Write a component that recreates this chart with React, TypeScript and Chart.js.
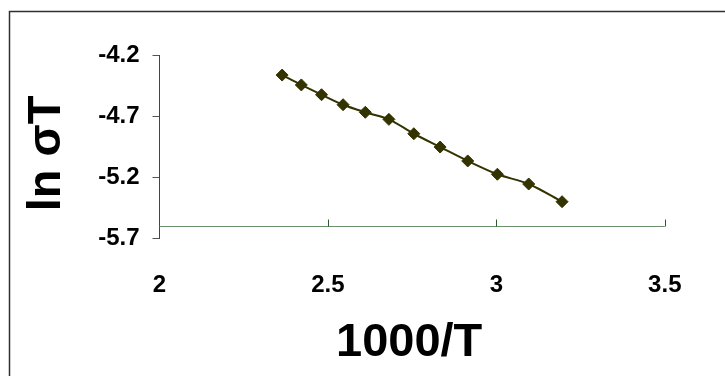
import React, { useEffect, useRef } from 'react';
import { Chart, registerables } from 'chart.js';

Chart.register(...registerables);

// Data
const xValues = [2.364, 2.421, 2.481, 2.545, 2.611, 2.681, 2.755, 2.833, 2.915, 3.003, 3.096, 3.195];
const yValues = [-4.362, -4.443, -4.523, -4.605, -4.667, -4.725, -4.843, -4.952, -5.066, -5.175, -5.255, -5.4];
const xTicks = [2, 2.5, 3, 3.5];
const xTickLabels = ['2', '2.5', '3', '3.5'];
const yTicks = [-5.7, -5.2, -4.7, -4.2];
const yTickLabels = ['-5.7', '-5.2', '-4.7', '-4.2'];
const xAxisCross = -5.6;
const xTitle = '1000/T';
const yTitle = 'ln σT';

const FONT = "'Liberation Sans', Arial, sans-serif";

const decorPlugin = {
  id: 'decor',
  beforeDraw(chart: any) {
    const ctx = chart.ctx;
    ctx.save();
    ctx.fillStyle = '#ffffff';
    ctx.fillRect(0, 0, chart.width, chart.height);
    ctx.strokeStyle = '#303030';
    ctx.lineWidth = 1.5;
    ctx.beginPath();
    ctx.moveTo(9.5, chart.height + 10);
    ctx.lineTo(9.5, 11.5);
    ctx.lineTo(chart.width + 10, 11.5);
    ctx.stroke();
    ctx.restore();
  },
  beforeDatasetsDraw(chart: any) {
    const { ctx, scales } = chart;
    const x = scales.x;
    const y = scales.y;
    const py = Math.round(y.getPixelForValue(xAxisCross)) + 0.5;
    ctx.save();
    ctx.strokeStyle = '#6b8f6b';
    ctx.lineWidth = 1.2;
    ctx.beginPath();
    ctx.moveTo(x.getPixelForValue(xTicks[0]), py);
    ctx.lineTo(x.getPixelForValue(xTicks[xTicks.length - 1]), py);
    ctx.stroke();
    ctx.strokeStyle = '#2f5a2f';
    ctx.lineWidth = 1;
    ctx.beginPath();
    for (const t of xTicks.slice(1)) {
      const px = Math.round(x.getPixelForValue(t)) + 0.5;
      ctx.moveTo(px, py);
      ctx.lineTo(px, py - 7);
    }
    ctx.stroke();
    ctx.restore();
  },
  afterDraw(chart: any) {
    const { ctx, chartArea } = chart;
    ctx.save();
    ctx.fillStyle = '#000000';
    ctx.font = `bold 47px ${FONT}`;
    ctx.textAlign = 'center';
    ctx.textBaseline = 'alphabetic';
    // x-axis title
    ctx.fillText(xTitle, (chartArea.left + chartArea.right) / 2 - 3, chartArea.bottom + 117.7);
    // y-axis title
    ctx.translate(chartArea.left - 99.5, (chartArea.top + chartArea.bottom) / 2 + 6.7);
    ctx.rotate(-Math.PI / 2);
    ctx.fillText(yTitle, 0, 0);
    ctx.restore();
  },
};

export default function App() {
  const canvasRef = useRef<HTMLCanvasElement | null>(null);

  useEffect(() => {
    if (!canvasRef.current) return;
    const tickFont = { family: FONT, size: 24, weight: 'bold' as const };
    const chart = new Chart(canvasRef.current, {
      type: 'line',
      data: {
        datasets: [
          {
            data: xValues.map((x, i) => ({ x, y: yValues[i] })),
            borderColor: '#333300',
            backgroundColor: '#333300',
            borderWidth: 2,
            pointStyle: 'rectRot',
            pointRadius: 6,
            pointBorderWidth: 1,
            pointBorderColor: '#333300',
            pointBackgroundColor: '#333300',
            tension: 0.3,
          },
        ],
      },
      options: {
        responsive: false,
        animation: false,
        devicePixelRatio: 1,
        layout: { padding: { top: 55.3, right: 60.2, bottom: 0, left: 0 } },
        plugins: { legend: { display: false }, tooltip: { enabled: false } },
        scales: {
          x: {
            type: 'linear',
            min: 2,
            max: 3.5,
            afterBuildTicks: (s: any) => {
              s.ticks = xTicks.map((v) => ({ value: v }));
            },
            afterFit: (s: any) => {
              s.height = 137.7;
            },
            border: { display: false },
            grid: { display: false },
            ticks: {
              font: tickFont,
              color: '#000000',
              padding: 24.5,
              maxRotation: 0,
              autoSkip: false,
              callback: (_v: any, i: number) => xTickLabels[i],
            },
          },
          y: {
            type: 'linear',
            min: -5.7,
            max: -4.2,
            afterBuildTicks: (s: any) => {
              s.ticks = yTicks.map((v) => ({ value: v }));
            },
            afterFit: (s: any) => {
              s.width = 159.5;
            },
            border: { display: true, color: '#444444', width: 1 },
            grid: { display: true, drawOnChartArea: false, drawTicks: true, tickLength: 7, color: '#555555' },
            ticks: {
              font: tickFont,
              color: '#000000',
              padding: 13,
              autoSkip: false,
              callback: (_v: any, i: number) => yTickLabels[i],
            },
          },
        },
      },
      plugins: [decorPlugin],
    });
    return () => chart.destroy();
  }, []);

  return (
    <div style={{ position: 'absolute', left: 0, top: 0, width: 725, height: 376 }}>
      <canvas ref={canvasRef} width={725} height={376} />
    </div>
  );
}
